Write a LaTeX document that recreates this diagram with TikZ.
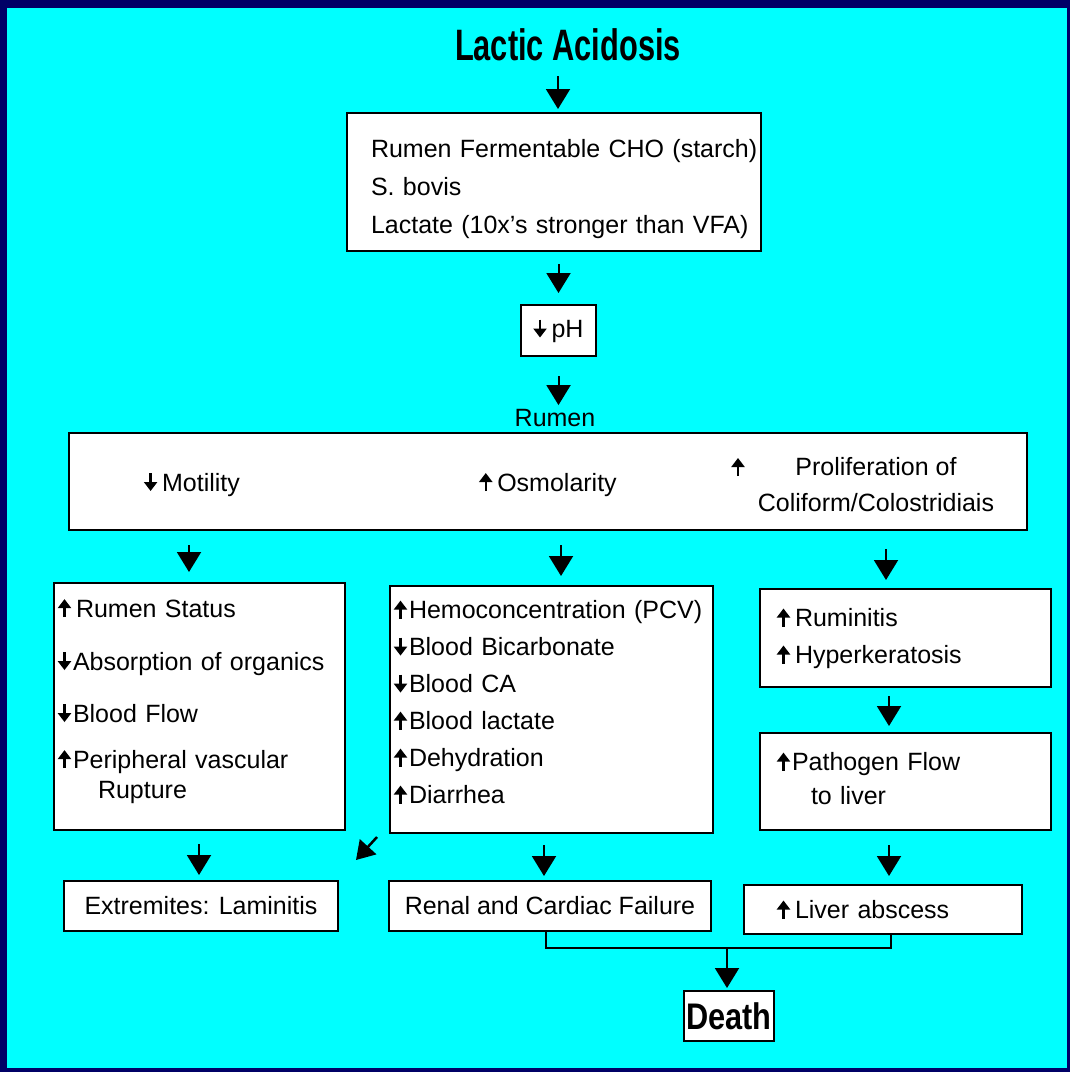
\documentclass[tikz,border=0pt]{standalone}
\usepackage{fontspec}
\setmainfont{Liberation Sans}
\newfontfamily\condfont[FakeStretch=0.7]{Liberation Sans}
\newfontfamily\condfontb[FakeStretch=0.83]{Liberation Sans}
\usetikzlibrary{arrows.meta}
\definecolor{navybg}{RGB}{0,0,102}
\definecolor{cyanbg}{RGB}{0,255,255}
\newcommand\upar{\tikz[baseline=0pt]\draw[black,line width=2.4pt,-{Triangle[width=13pt,length=9pt]}] (0pt,0pt)--(0pt,18pt);\hspace{2pt}}
\newcommand\dnar{\tikz[baseline=0pt]\draw[black,line width=2.4pt,-{Triangle[width=13pt,length=9pt]}] (0pt,18pt)--(0pt,0pt);\hspace{2pt}}
\begin{document}
\begin{tikzpicture}[x=1pt,y=-1pt,
 box/.style={draw=black, line width=2pt, fill=white, anchor=north west, inner ysep=0pt, align=left},
 txt/.style={font=\fontsize{25}{30}\selectfont, inner sep=0pt},
 arr/.style={line width=2pt, -{Triangle[width=24pt,length=20pt]}},
 link/.style={line width=2pt},
]
\fill[navybg] (0,0) rectangle (1070,1072);
\fill[cyanbg] (7,8) rectangle (1067,1068);
\useasboundingbox (0,0) rectangle (1070,1072);

\node[font=\condfont\bfseries\fontsize{44}{44}\selectfont, inner sep=0pt] (title) at (568,45) {Lactic Acidosis};

\node[box, minimum width=414pt, minimum height=138pt, inner xsep=24pt, text width=366pt, font=\fontsize{25}{38}\selectfont] (b1) at (346,112)
 {\mbox{}\\[-5pt]\mbox{Rumen Fermentable CHO (starch)}\\ \mbox{S. bovis}\\ \mbox{Lactate (10x's stronger than VFA)}};

\node[box, minimum width=75pt, minimum height=51pt, inner xsep=0pt, align=center, font=\fontsize{25}{30}\selectfont] (ph) at (520,304) {\dnar\hspace{3pt}pH};

\node[txt] (rlbl) at (555,418) {Rumen};

\node[box, minimum width=958pt, minimum height=97pt] (rbox) at (68,432) {};
\node[txt] (mot) at (192,484) {\dnar\hspace{3pt}Motility};
\node[txt] (osm) at (548,484) {\upar\hspace{3pt}Osmolarity};
\node[txt] (proarr) at (738,467) {\upar};
\node[txt, align=center, font=\fontsize{25}{36}\selectfont] (prol) at (876,485) {Proliferation of\\Coliform/Colostridiais};

\node[box, minimum width=291pt, minimum height=247pt, inner xsep=4pt, text width=283pt, font=\fontsize{25}{30}\selectfont] (lb) at (53,582)
 {\mbox{\upar\hspace{3pt}Rumen Status}\\[23pt]\mbox{\dnar Absorption of organics}\\[22pt]\mbox{\dnar Blood Flow}\\[16pt]\mbox{\upar Peripheral vascular}\\\mbox{\hspace*{40pt}Rupture}\\[-13pt]\mbox{}};

\node[box, minimum width=323pt, minimum height=247pt, inner xsep=4pt, text width=315pt, font=\fontsize{25}{37}\selectfont] (mb) at (389,585)
 {\mbox{\upar Hemoconcentration (PCV)}\\\mbox{\dnar Blood Bicarbonate}\\\mbox{\dnar Blood CA}\\\mbox{\upar Blood lactate}\\\mbox{\upar Dehydration}\\\mbox{\upar Diarrhea}\\[-21pt]\mbox{}};

\node[box, minimum width=291pt, minimum height=98pt, inner xsep=17pt, text width=257pt, font=\fontsize{25}{37}\selectfont] (rt) at (759,588)
 {\mbox{\upar\hspace{3pt}Ruminitis}\\\mbox{\upar\hspace{3pt}Hyperkeratosis}};

\node[box, minimum width=291pt, minimum height=97pt, inner xsep=17pt, text width=257pt, font=\fontsize{25}{34}\selectfont] (rb) at (759,732)
 {\mbox{\upar Pathogen Flow}\\\mbox{\hspace*{34pt}to liver}\\[-27pt]\mbox{}};

\node[box, minimum width=274pt, minimum height=50pt, inner xsep=0pt, align=center, font=\fontsize{25}{30}\selectfont] (ext) at (63,880) {Extremites: Laminitis};
\node[box, minimum width=322pt, minimum height=50pt, inner xsep=0pt, align=center, font=\fontsize{25}{30}\selectfont] (renal) at (388,880) {Renal and Cardiac Failure};
\node[box, minimum width=278pt, minimum height=49pt, inner xsep=33pt, text width=212pt, font=\fontsize{25}{30}\selectfont] (liver) at (743,884) {\mbox{\upar\hspace{3pt}Liver abscess}};
\node[box, minimum width=90pt, minimum height=50pt, inner xsep=0pt, align=center, font=\condfontb\bfseries\fontsize{37}{37}\selectfont] (death) at (683,990) {Death};

% connectors
\draw[arr, shorten <=15pt, shorten >=3pt] ([xshift=4pt]b1.north |- title.south) -- ([xshift=4pt]b1.north);
\draw[arr, shorten <=12pt, shorten >=11pt] (b1.south -| ph.north) -- (ph.north);
\draw[arr, shorten <=19pt, shorten >=4pt] (ph.south) -- (ph.south |- rlbl.north);
\draw[arr, shorten <=14pt, shorten >=10pt] ([xshift=-10.5pt]lb.north |- rbox.south) -- ([xshift=-10.5pt]lb.north);
\draw[arr, shorten <=14pt, shorten >=9pt] ([xshift=9.5pt]mb.north |- rbox.south) -- ([xshift=9.5pt]mb.north);
\draw[arr, shorten <=18pt, shorten >=8pt] ([xshift=-19.5pt]rt.north |- rbox.south) -- ([xshift=-19.5pt]rt.north);
\draw[arr, shorten <=8pt, shorten >=6pt] ([xshift=-16.5pt]rb.north |- rt.south) -- ([xshift=-16.5pt]rb.north);
\draw[arr, shorten <=13pt, shorten >=5pt] ([xshift=-2pt]ext.north |- lb.south) -- ([xshift=-2pt]ext.north);
\draw[arr, shorten <=11pt, shorten >=4pt] ([xshift=-6pt]renal.north |- mb.south) -- ([xshift=-6pt]renal.north);
\draw[arr, shorten <=14pt, shorten >=8pt] ([xshift=6pt]liver.north |- rb.south) -- ([xshift=6pt]liver.north);

\coordinate (dA) at (377,837);
\coordinate (dB) at (356,860);
\draw[line width=2.5pt, -{Triangle[width=22pt,length=18pt]}] (dA) -- (dB);

\coordinate (j) at (727,948);
\draw[link] ([xshift=-4pt]renal.south) |- (j) -| ([xshift=8pt]liver.south);
\draw[arr, shorten >=2pt] (j) -- (death.north -| j);
\end{tikzpicture}
\end{document}
